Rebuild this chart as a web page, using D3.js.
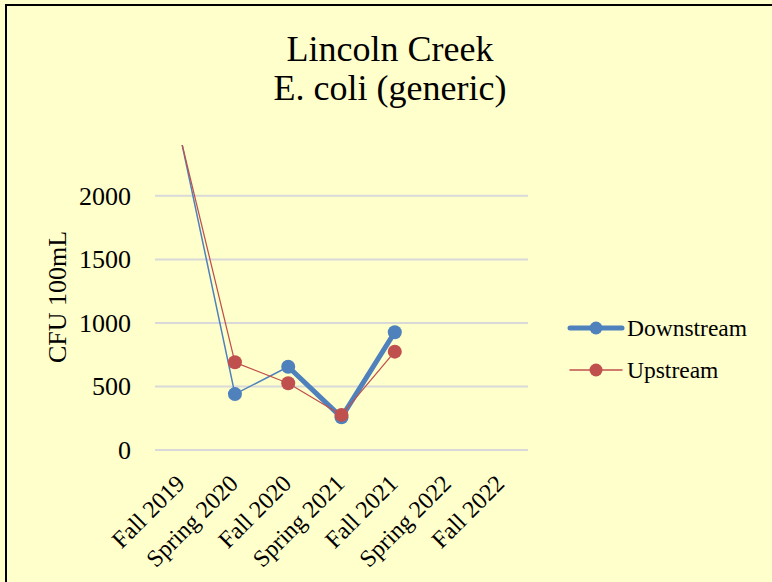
<!DOCTYPE html>
<html>
<head>
<meta charset="utf-8">
<script src="https://cdn.jsdelivr.net/npm/d3@7"></script>
<style>
  html, body { margin: 0; padding: 0; background: #FFFFCC; }
  svg { display: block; }
  text { font-family: "Times New Roman", "Liberation Serif", serif; fill: #000; }
</style>
</head>
<body>
<svg id="chart" width="772" height="582"></svg>
<script>
// Sampling seasons along the x axis
const seasons = ["Fall 2019", "Spring 2020", "Fall 2020", "Spring 2021", "Fall 2021", "Spring 2022", "Fall 2022"];
// E. coli counts (CFU per 100 mL); null = not sampled
const downstream = [2419.6, 440, 655, 257, 927, null, null];
const upstream   = [2419.6, 690, 525, 276, 774, null, null];
const yTicks = [0, 500, 1000, 1500, 2000];
const yMax = 2400;
const titleLines = ["Lincoln Creek", "E. coli (generic)"];
const yTitle = "CFU 100mL";

const svg = d3.select("#chart");
const W = 772, H = 582;
const serif = "'Times New Roman', 'Liberation Serif', serif";

// chart area fill and frame
svg.append("rect").attr("x", 0).attr("y", 0).attr("width", W).attr("height", H).attr("fill", "#FFFFCC");
svg.append("rect").attr("x", 6).attr("y", 5).attr("width", 780).attr("height", 600)
  .attr("fill", "none").attr("stroke", "#000").attr("stroke-width", 2);

const plot = { left: 155, right: 528, top: 145, bottom: 450 };

const x = d3.scalePoint().domain(seasons).range([plot.left, plot.right]).padding(0.5);
const y = d3.scaleLinear().domain([0, yMax]).range([plot.bottom, plot.top]);

// horizontal gridlines
svg.append("g").selectAll("line").data(yTicks).join("line")
  .attr("x1", plot.left).attr("x2", plot.right)
  .attr("y1", d => y(d)).attr("y2", d => y(d))
  .attr("stroke", "#D9D9D9").attr("stroke-width", 2);

// y axis labels
const yAxis = d3.axisLeft(y).tickValues(yTicks).tickSize(0).tickPadding(24).tickFormat(d3.format("d"));
const gy = svg.append("g").attr("transform", `translate(${plot.left},0)`).call(yAxis);
gy.select(".domain").remove();
gy.selectAll("text").attr("font-size", 26).attr("font-family", serif).attr("fill", "#000");

// x axis labels, rotated
const xAxis = d3.axisBottom(x).tickSize(0).tickPadding(0);
const gx = svg.append("g").attr("transform", `translate(0,${plot.bottom})`).call(xAxis);
gx.select(".domain").remove();
gx.selectAll("text")
  .attr("font-size", 24).attr("font-family", serif).attr("fill", "#000")
  .attr("text-anchor", "end").attr("dy", 0).attr("y", 0)
  .attr("transform", "translate(4,35) rotate(-45)");

// axis title
svg.append("text").attr("transform", `translate(66,297) rotate(-90)`)
  .attr("text-anchor", "middle").attr("font-size", 26).text(yTitle);

// chart title
svg.append("g").selectAll("text").data(titleLines).join("text")
  .attr("x", 390).attr("y", (d, i) => 61 + i * 39)
  .attr("text-anchor", "middle").attr("font-size", 36).text(d => d);

// clip series to the plot area
svg.append("defs").append("clipPath").attr("id", "plotClip")
  .append("rect").attr("x", plot.left - 10).attr("y", plot.top)
  .attr("width", plot.right - plot.left + 20).attr("height", plot.bottom - plot.top + 20);

const blue = "#4F81BD", red = "#C0504D";

function pairs(vals) {
  const out = [];
  for (let i = 0; i < vals.length - 1; i++) {
    if (vals[i] != null && vals[i + 1] != null) out.push({ i, a: vals[i], b: vals[i + 1] });
  }
  return out;
}

function drawSeries(vals, color, widthFor) {
  const g = svg.append("g");
  g.append("g").attr("clip-path", "url(#plotClip)")
    .selectAll("line").data(pairs(vals)).join("line")
    .attr("x1", d => x(seasons[d.i])).attr("y1", d => y(d.a))
    .attr("x2", d => x(seasons[d.i + 1])).attr("y2", d => y(d.b))
    .attr("stroke", color).attr("stroke-width", d => widthFor(d.i))
    .attr("stroke-linecap", "round");
  const pts = vals.map((v, i) => ({ v, s: seasons[i] })).filter(d => d.v != null && d.v <= yMax);
  g.selectAll("circle").data(pts).join("circle")
    .attr("cx", d => x(d.s)).attr("cy", d => y(d.v)).attr("r", 7)
    .attr("fill", color);
}

// Downstream: first two segments drawn thin, remaining heavy
drawSeries(downstream, blue, i => (i < 2 ? 1.5 : 5));
drawSeries(upstream, red, () => 1.25);

// legend
const legend = [
  { name: "Downstream", color: blue, w: 5, y: 328 },
  { name: "Upstream", color: red, w: 1.5, y: 370 }
];
const lg = svg.append("g").selectAll("g").data(legend).join("g");
lg.append("line").attr("x1", 570).attr("x2", 622).attr("y1", d => d.y).attr("y2", d => d.y)
  .attr("stroke", d => d.color).attr("stroke-width", d => d.w).attr("stroke-linecap", "round");
lg.append("circle").attr("cx", 596).attr("cy", d => d.y).attr("r", 6.5).attr("fill", d => d.color);
lg.append("text").attr("x", 627).attr("y", d => d.y + 8).attr("font-size", 23.5).text(d => d.name);
</script>
</body>
</html>
